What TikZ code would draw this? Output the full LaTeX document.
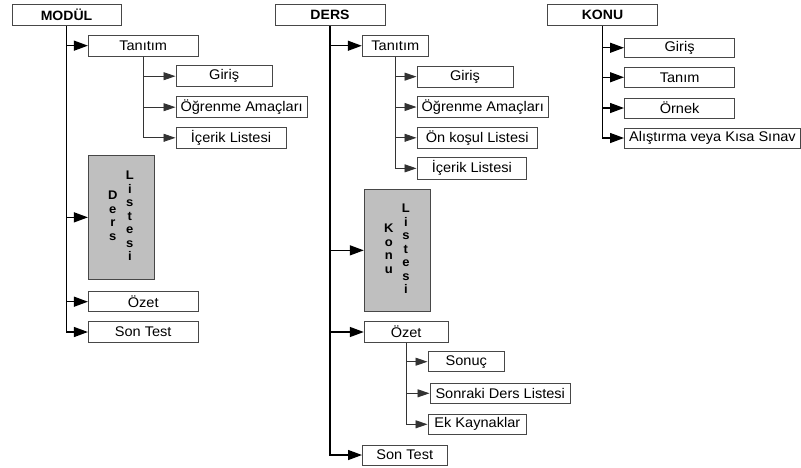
\documentclass[tikz,border=0pt]{standalone}
\usepackage{fontspec}
\setmainfont{Liberation Sans}[FakeStretch=1.04]
\usetikzlibrary{arrows.meta}

% one column of stacked letters, centred on the axis
\newcommand{\lettercol}[1]{\begin{tabular}[c]{@{}c@{}}#1\end{tabular}}
% box from its corners: style, name, x1, y1, x2, y2, text
\newcommand{\cornerbox}[7]{%
  \node[#1, minimum width={(#5-#3)*1pt}, minimum height={(#6-#4)*1pt}]
    (#2) at ({(#3+#5)/2},{(#4+#6)/2}) {#7};}

\tikzset{
  item/.style={draw=black!72, line width=1pt, fill=white, inner sep=0pt,
    font=\fontsize{14}{16}\selectfont},
  head/.style={item, font=\fontsize{13.5}{16}\selectfont\bfseries},
  listbox/.style={item, fill=black!25,
    font=\fontsize{12.5}{13.5}\selectfont\bfseries},
  trunk/.style={draw=black, line width=1.3pt,
    -{Triangle[length=14pt,width=10pt]}},
  branch/.style={draw=black!80, line width=0.9pt,
    -{Triangle[length=12pt,width=8pt]}}
}

\begin{document}
\begin{tikzpicture}[x=1pt, y=-1pt]
\useasboundingbox (0,0) rectangle (801,467);

% ---- MODÜL ----
\cornerbox{head}{modul}{12}{4.7}{121}{25.7}{MODÜL}
\cornerbox{item}{mtan}{88.4}{35.3}{198}{56}{Tanıtım}
\cornerbox{item}{mgir}{176}{65.7}{272.3}{86.7}{Giriş}
\cornerbox{item}{mogr}{176}{96.7}{307.3}{117.7}{Öğrenme Amaçları}
\cornerbox{item}{mice}{176}{127.3}{286}{148.3}{İçerik Listesi}
\cornerbox{listbox}{mdl}{88.4}{155.7}{154.3}{279}{%
  \makebox[17pt]{\lettercol{D\\e\\r\\s}}\makebox[17pt]{\lettercol{L\\i\\s\\t\\e\\s\\i}}}
\cornerbox{item}{moz}{88.4}{291.7}{198}{311.7}{Özet}
\cornerbox{item}{mst}{88.4}{321.7}{198}{342.3}{Son Test}

\foreach \c in {mtan,mdl,moz,mst} \draw[trunk] (modul.south) |- (\c.west);
\foreach \c in {mgir,mogr,mice} \draw[branch] (mtan.south) |- (\c.west);

% ---- DERS ----
\cornerbox{head}{ders}{275}{4.7}{385}{25.7}{DERS}
\cornerbox{item}{dtan}{362.3}{35.5}{428.3}{56}{Tanıtım}
\cornerbox{item}{dgir}{417}{66}{513}{87.3}{Giriş}
\cornerbox{item}{dogr}{417}{96.7}{548.5}{117.3}{Öğrenme Amaçları}
\cornerbox{item}{donk}{417}{127.3}{537.5}{148.3}{Ön koşul Listesi}
\cornerbox{item}{dice}{417}{157.7}{526.7}{179}{İçerik Listesi}
\cornerbox{listbox}{dkl}{364.3}{189}{430.5}{311.7}{%
  \makebox[17pt]{\lettercol{K\\o\\n\\u}}\makebox[17pt]{\lettercol{L\\i\\s\\t\\e\\s\\i}}}
\cornerbox{item}{doz}{364.3}{321.7}{448}{342.3}{Özet}
\cornerbox{item}{dson}{428}{351.7}{504.5}{371.7}{Sonuç}
\cornerbox{item}{dsnr}{430}{383.3}{570.5}{403.3}{Sonraki Ders Listesi}
\cornerbox{item}{dek}{428}{414.3}{526.7}{434.3}{Ek Kaynaklar}
\cornerbox{item}{dst}{362.5}{445}{447}{465}{Son Test}

\foreach \c in {dtan,dkl,doz,dst} \draw[trunk] (ders.south) |- (\c.west);
\foreach \c in {dgir,dogr,donk,dice} \draw[branch] (dtan.south) |- (\c.west);
\foreach \c in {dson,dsnr,dek} \draw[branch] (doz.south) |- (\c.west);

% ---- KONU ----
\cornerbox{head}{konu}{547.3}{4.7}{657.7}{25.7}{KONU}
\cornerbox{item}{kgir}{624.5}{38}{734.7}{57.5}{Giriş}
\cornerbox{item}{ktan}{624.5}{67.5}{734.7}{87}{Tanım}
\cornerbox{item}{korn}{624.5}{98}{734.7}{118}{Örnek}
\cornerbox{item}{kali}{624.5}{128}{800.3}{148}{Alıştırma veya Kısa Sınav}

\foreach \c in {kgir,ktan,korn,kali} \draw[trunk] (konu.south) |- (\c.west);
\end{tikzpicture}
\end{document}
